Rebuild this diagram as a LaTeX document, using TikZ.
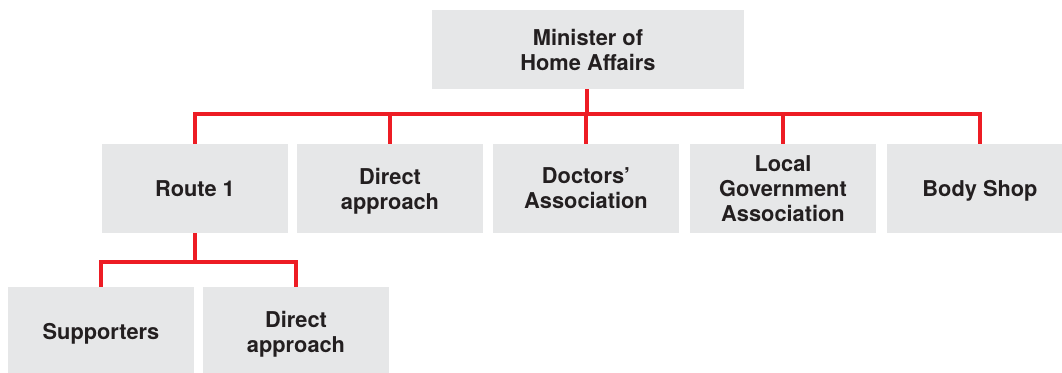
\documentclass[tikz,border=0pt]{standalone}
\usepackage{fontspec}
\setmainfont{TeX Gyre Heros}
\definecolor{boxgray}{HTML}{E6E7E8}
\definecolor{linered}{HTML}{ED1C24}
\definecolor{txt}{HTML}{231F20}
\newcommand{\nodepth}[1]{\raisebox{0pt}[\height][0pt]{#1}}
\begin{document}
\begin{tikzpicture}[x=1pt,y=-1pt,
  orgbox/.style={fill=boxgray, draw=none, inner sep=0pt, minimum width=186pt, minimum height=89pt,
    align=center, text=txt, font=\fontsize{21.8}{25}\selectfont\bfseries},
  conn/.style={draw=linered, line width=4.5pt, line join=miter}]
\useasboundingbox (0,0) rectangle (1062,372);
\node[orgbox, minimum width=312pt, minimum height=79pt] (top) at (588,49.5) {Minister of\\Home Affairs};
\node[orgbox] (r1) at (195,188.5) {Route 1};
\node[orgbox] (da1) at (390,188.5) {Direct\\\nodepth{approach}};
\node[orgbox] (doc) at (586,188.5) {Doctors’\\Association};
\node[orgbox] (lga) at (783,188.5) {Local\\Government\\Association};
\node[orgbox] (bs) at (980,188.5) {\nodepth{Body Shop}};
\node[orgbox] (sup) at (101,331.5) {\nodepth{Supporters}};
\node[orgbox] (da2) at (296,331.5) {Direct\\\nodepth{approach}};
\coordinate (bus) at (587,114);
\coordinate (bus2) at (195,262);
\draw[conn] (top.south -| bus) -- (bus);
\foreach \n in {r1,da1,doc,lga,bs} \draw[conn] (bus) -| (\n.north);
\draw[conn] (r1.south) -- (bus2);
\foreach \n in {sup,da2} \draw[conn] (bus2) -| (\n.north);
\end{tikzpicture}
\end{document}
